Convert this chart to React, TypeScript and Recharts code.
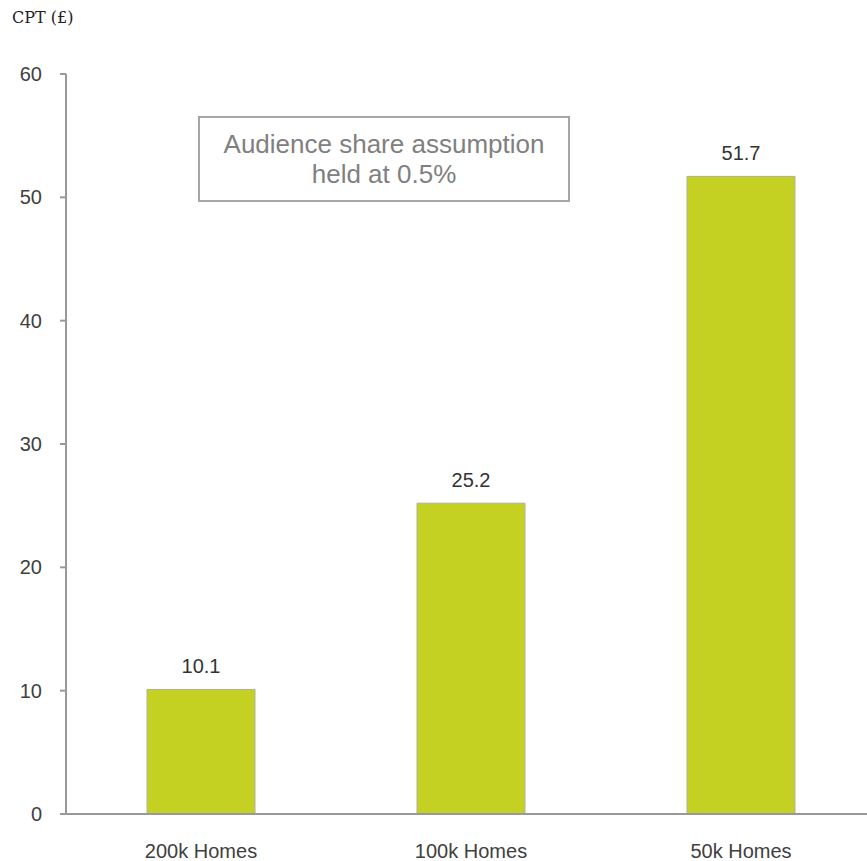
import React from 'react';
import { BarChart, Bar, XAxis, YAxis, LabelList } from 'recharts';

const categories = ['200k Homes', '100k Homes', '50k Homes'];
const cptValues = [10.1, 25.2, 51.7];
const yTicks = [0, 10, 20, 30, 40, 50, 60];

const data = categories.map((name, i) => ({ name, cpt: cptValues[i] }));

const tickStyle = { fill: '#404040', fontSize: 20, fontFamily: 'Liberation Sans, Arial, sans-serif' };

export default function App() {
  return (
    <div style={{ position: 'absolute', left: 0, top: 0, width: 867, height: 861, overflow: 'hidden', background: '#fff' }}>
      <div
        style={{
          position: 'absolute',
          left: 12,
          top: 8,
          fontFamily: 'DejaVu Serif, serif',
          fontSize: 16,
          color: '#222',
        }}
      >
        CPT (£)
      </div>
      <BarChart
        width={876}
        height={861}
        data={data}
        margin={{ top: 74, right: 0, left: 0, bottom: 17 }}
        barCategoryGap="30%"
      >
        <XAxis
          dataKey="name"
          tickLine={false}
          tickSize={0}
          tickMargin={30}
          axisLine={{ stroke: '#999999', strokeWidth: 2 }}
          tick={tickStyle}
          height={30}
        />
        <YAxis
          domain={[0, 60]}
          ticks={yTicks}
          width={66}
          tickSize={6}
          tickMargin={18}
          tickLine={{ stroke: '#999999', strokeWidth: 2 }}
          axisLine={{ stroke: '#999999', strokeWidth: 2 }}
          tick={tickStyle}
        />
        <Bar dataKey="cpt" fill="#C5D122" stroke="#b0b0a0" strokeWidth={1} isAnimationActive={false}>
          <LabelList
            dataKey="cpt"
            position="top"
            offset={16}
            style={{ fill: '#333333', fontSize: 20, fontFamily: 'Liberation Sans, Arial, sans-serif' }}
          />
        </Bar>
      </BarChart>
      <div
        style={{
          position: 'absolute',
          left: 198,
          top: 116,
          width: 368,
          height: 82,
          border: '2px solid #a6a6a6',
          display: 'flex',
          alignItems: 'center',
          justifyContent: 'center',
          textAlign: 'center',
          fontFamily: 'Liberation Sans, Arial, sans-serif',
          fontSize: 26,
          lineHeight: '30px',
          color: '#808080',
          background: '#fff',
        }}
      >
        Audience share assumption
        <br />
        held at 0.5%
      </div>
    </div>
  );
}
